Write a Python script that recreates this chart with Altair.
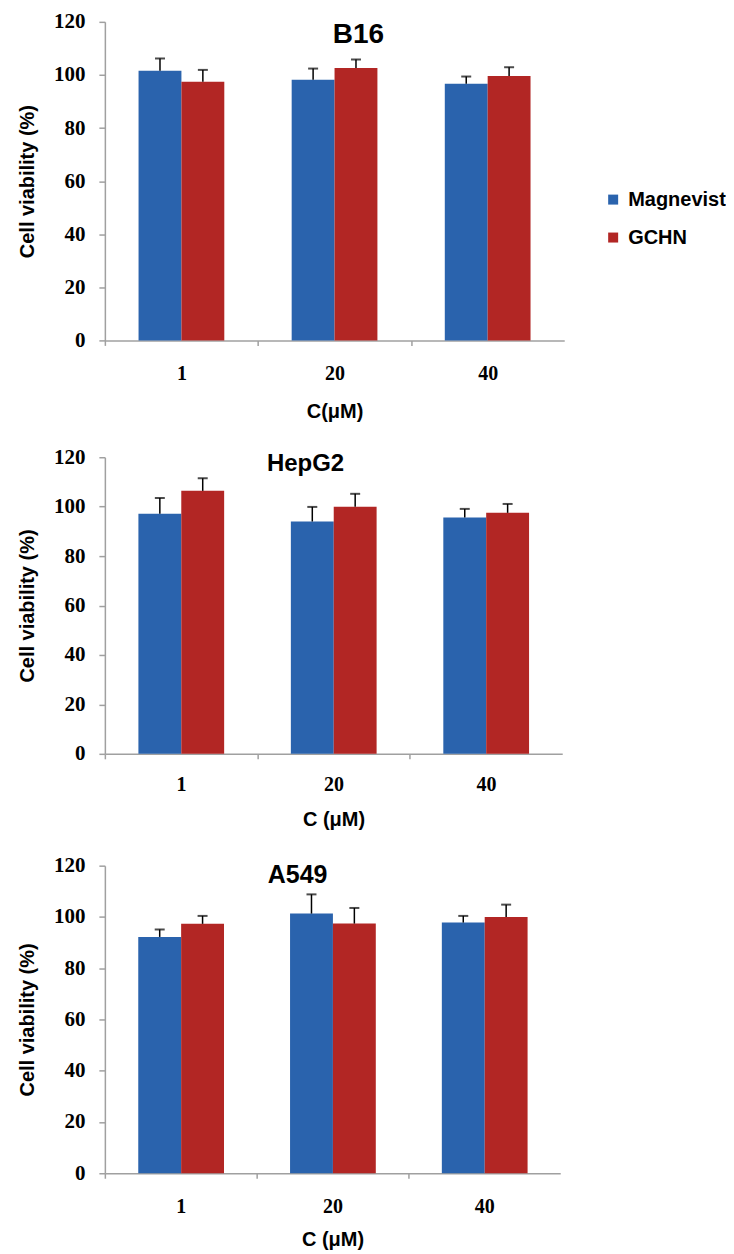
import altair as alt
import pandas as pd

categories = ["1", "20", "40"]
series = ["Magnevist", "GCHN"]
colors = ["#2a63ad", "#b22624"]

b16_mag = [101.6, 98.2, 96.7]
b16_mag_err = [4.6, 4.2, 2.7]
b16_gchn = [97.4, 102.6, 99.6]
b16_gchn_err = [4.5, 3.2, 3.3]

hep_mag = [97.1, 94.0, 95.6]
hep_mag_err = [6.4, 5.9, 3.5]
hep_gchn = [106.4, 100.0, 97.5]
hep_gchn_err = [5.1, 5.2, 3.6]

a549_mag = [92.2, 101.3, 97.8]
a549_mag_err = [2.9, 7.5, 2.6]
a549_gchn = [97.3, 97.4, 100.0]
a549_gchn_err = [3.1, 6.1, 4.8]

y_ticks = [0, 20, 40, 60, 80, 100, 120]

SANS = "Liberation Sans"
SERIF = "Liberation Serif"
GRAY = "#a0a0a0"


def panel(name, mag, mag_err, gchn, gchn_err, xtitle, width, height,
          title_x, title_y, title_size, label_pad, title_pad, legend):
    rows = []
    for i, c in enumerate(categories):
        rows.append(dict(C=c, S=series[0], v=mag[i], e=mag[i] + mag_err[i]))
        rows.append(dict(C=c, S=series[1], v=gchn[i], e=gchn[i] + gchn_err[i]))
    df = pd.DataFrame(rows)
    base = alt.Chart(df)
    step = width / 3.0
    x = alt.X(
        "C:N", sort=categories, title=xtitle,
        scale=alt.Scale(paddingInner=0.44, paddingOuter=0.22),
        axis=alt.Axis(
            labelAngle=0, labelFont=SERIF, labelFontWeight="bold", labelFontSize=20,
            labelColor="black", labelPadding=label_pad,
            tickOffset=-step / 2, labelOffset=step / 2,
            tickSize=5, tickColor=GRAY, tickWidth=1.5,
            domainColor=GRAY, domainWidth=1.5,
            titleFont=SANS, titleFontSize=20, titleFontWeight="bold",
            titleColor="black", titlePadding=title_pad,
        ),
    )
    xo = alt.XOffset("S:N", sort=series,
                     scale=alt.Scale(domain=series, paddingInner=0, paddingOuter=0))
    y = alt.Y(
        "v:Q", scale=alt.Scale(domain=[0, 120], nice=False),
        axis=alt.Axis(
            values=y_ticks, grid=False, title="Cell viability (%)",
            labelFont=SERIF, labelFontWeight="bold", labelFontSize=21,
            labelColor="black", labelPadding=14,
            tickSize=6, tickColor=GRAY, tickWidth=1.5,
            domainColor=GRAY, domainWidth=1.5,
            titleFont=SANS, titleFontSize=20, titleFontWeight="bold",
            titleColor="black", titlePadding=16,
        ),
    )
    if legend:
        leg = alt.Legend(
            orient="none", legendX=499, legendY=168, title=None,
            labelFont=SANS, labelFontSize=20, labelFontWeight="bold",
            labelColor="black", symbolType="square", symbolSize=100,
            symbolStrokeWidth=0, rowPadding=18, labelOffset=5,
        )
    else:
        leg = None
    color = alt.Color("S:N", sort=series,
                      scale=alt.Scale(domain=series, range=colors), legend=leg)
    bars = base.mark_bar().encode(x=x, xOffset=xo, y=y, color=color)
    rules = base.mark_rule(color="black", strokeWidth=1.5).encode(
        x=x, xOffset=xo, y="v:Q", y2="e:Q")
    caps = base.mark_tick(color="black", thickness=2, size=10).encode(
        x=x, xOffset=xo, y="e:Q")
    title = alt.Chart(pd.DataFrame({"t": [name]})).mark_text(
        font=SANS, fontSize=title_size, fontWeight="bold", color="black",
        align="center", baseline="middle",
    ).encode(x=alt.value(title_x), y=alt.value(title_y), text="t:N")
    return alt.layer(bars, rules, caps, title).properties(width=width, height=height)


p1 = panel("B16", b16_mag, b16_mag_err, b16_gchn, b16_gchn_err, "C(μM)",
           460, 319, 254, 13, 28, 18, 18, True)
p2 = panel("HepG2", hep_mag, hep_mag_err, hep_gchn, hep_gchn_err, "C (μM)",
           458, 297, 201, 7, 24, 16, 15, False)
p3 = panel("A549", a549_mag, a549_mag_err, a549_gchn, a549_gchn_err, "C (μM)",
           456, 308, 193, 9, 25, 18, 13, False)

chart = alt.vconcat(p1, p2, p3, spacing=25).resolve_scale(
    color="independent").resolve_legend(color="independent").properties(
    padding={"top": 2, "left": 9, "right": 0, "bottom": 0}
).configure_view(stroke=None)

chart.save("out.html", embed_options={"renderer": "svg", "actions": False})
